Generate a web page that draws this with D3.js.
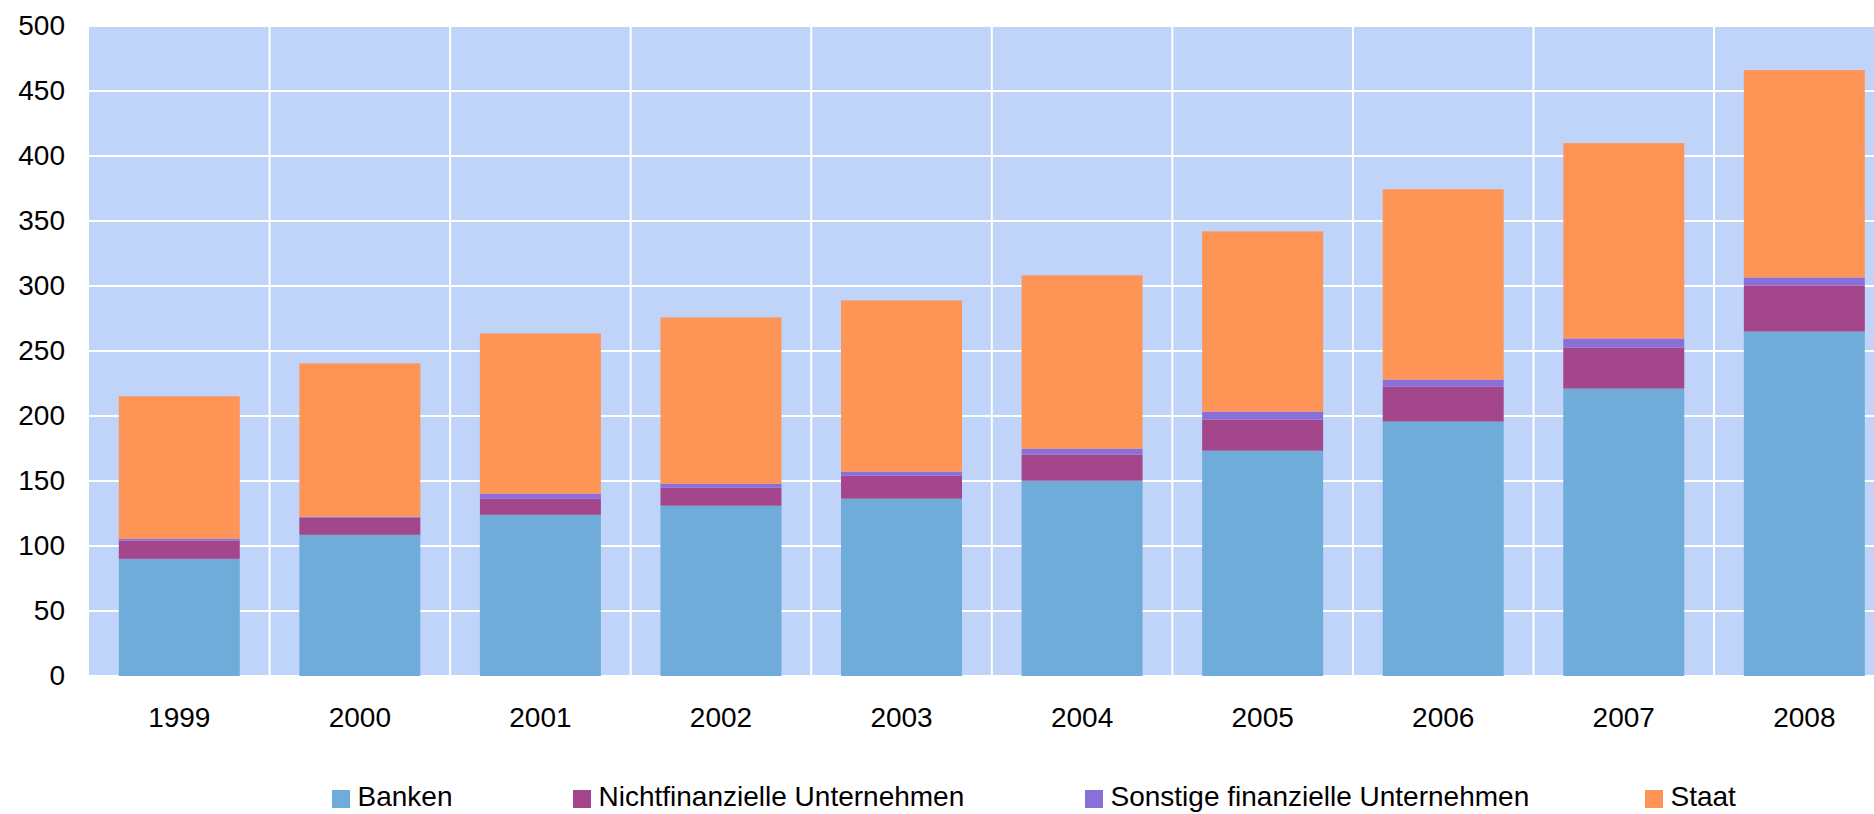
<!DOCTYPE html>
<html>
<head>
<meta charset="utf-8">
<script src="https://cdn.jsdelivr.net/npm/d3@7"></script>
<style>
  html, body { margin: 0; padding: 0; background: #ffffff; }
  svg { display: block; }
  text { font-family: "Liberation Sans", Arial, sans-serif; fill: #000; }
</style>
</head>
<body>
<svg id="chart" width="1874" height="814"></svg>
<script>
// ---- data ----
const years = ["1999","2000","2001","2002","2003","2004","2005","2006","2007","2008"];
const seriesNames = ["Banken","Nichtfinanzielle Unternehmen","Sonstige finanzielle Unternehmen","Staat"];
const banken    = [90.1, 108.6, 124.0, 131.0, 136.4, 150.2, 173.3, 195.7, 221.1, 265.0];
const nichtfin  = [13.9, 13.1, 12.4, 13.8, 17.7, 20.1, 23.9, 26.9, 31.6, 35.5];
const sonstige  = [1.5, 0.8, 3.8, 3.1, 3.1, 4.6, 6.2, 5.4, 6.9, 6.1];
const staat     = [109.7, 118.0, 123.3, 127.9, 131.7, 133.3, 138.6, 146.4, 150.3, 159.5];
const yTicks    = [0, 50, 100, 150, 200, 250, 300, 350, 400, 450, 500];
const colors    = ["#6FACD9", "#A3468B", "#8A6FD9", "#FF9457"];

const table = years.map((y, i) => ({
  year: y,
  "Banken": banken[i],
  "Nichtfinanzielle Unternehmen": nichtfin[i],
  "Sonstige finanzielle Unternehmen": sonstige[i],
  "Staat": staat[i]
}));

// ---- layout ----
const svg = d3.select("#chart");
const plotLeft = 89, plotRight = 1894.6, plotTop = 26, plotBottom = 676;

const x = d3.scaleBand().domain(years).range([plotLeft, plotRight])
  .paddingInner(0.33).paddingOuter(0.165);
const y = d3.scaleLinear().domain([0, 500]).range([plotBottom, plotTop]);
const color = d3.scaleOrdinal().domain(seriesNames).range(colors);

// background
svg.append("rect")
  .attr("x", plotLeft).attr("y", plotTop)
  .attr("width", plotRight - plotLeft).attr("height", plotBottom - plotTop)
  .attr("fill", "#C0D3F8");

// horizontal gridlines
svg.append("g").selectAll("line").data(yTicks).join("line")
  .attr("x1", plotLeft).attr("x2", plotRight)
  .attr("y1", d => y(d)).attr("y2", d => y(d))
  .attr("stroke", "#ffffff").attr("stroke-width", 2);

// vertical gridlines at band boundaries
const step = x.step();
const gapHalf = (step - x.bandwidth()) / 2;
svg.append("g").selectAll("line").data(years.slice(1)).join("line")
  .attr("x1", d => x(d) - gapHalf).attr("x2", d => x(d) - gapHalf)
  .attr("y1", plotTop).attr("y2", plotBottom)
  .attr("stroke", "#ffffff").attr("stroke-width", 2);

// stacked bars
const stack = d3.stack().keys(seriesNames)(table);
svg.append("g").selectAll("g").data(stack).join("g")
  .attr("fill", d => color(d.key))
  .selectAll("rect").data(d => d).join("rect")
  .attr("x", d => x(d.data.year))
  .attr("width", x.bandwidth())
  .attr("y", d => y(d[1]))
  .attr("height", d => y(d[0]) - y(d[1]));

// y axis labels
const yAxis = d3.axisLeft(y).tickValues(yTicks).tickSize(0).tickPadding(24);
const gy = svg.append("g").attr("transform", `translate(${plotLeft},0)`).call(yAxis);
gy.select(".domain").remove();
gy.selectAll("text").style("font-size", "28px")
  .style("font-family", '"Liberation Sans", Arial, sans-serif').attr("fill", "#000");

// x axis labels
const xAxis = d3.axisBottom(x).tickSize(0).tickPadding(0);
const gx = svg.append("g").attr("transform", `translate(0,${plotBottom})`).call(xAxis);
gx.select(".domain").remove();
gx.selectAll("text").style("font-size", "28px")
  .style("font-family", '"Liberation Sans", Arial, sans-serif')
  .attr("fill", "#000").attr("dy", null).attr("y", 51);

// legend
const legendX = [332, 573, 1085, 1645];
const lg = svg.append("g").selectAll("g").data(seriesNames).join("g")
  .attr("transform", (d, i) => `translate(${legendX[i]},0)`);
lg.append("rect").attr("x", 0).attr("y", 790).attr("width", 18).attr("height", 18)
  .attr("fill", d => color(d));
lg.append("text").attr("x", 25.5).attr("y", 806).style("font-size", "28px").text(d => d);
</script>
</body>
</html>
